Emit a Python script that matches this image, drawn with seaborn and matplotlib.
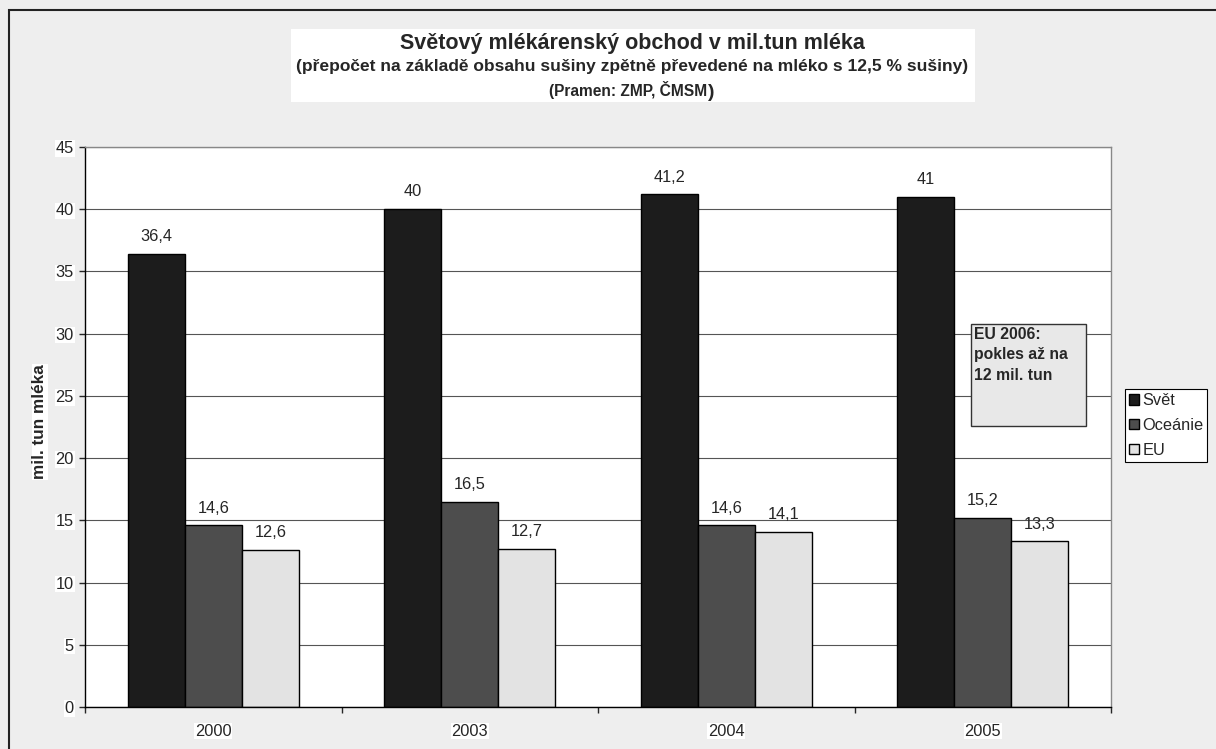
import matplotlib
matplotlib.use("Agg")
import matplotlib.pyplot as plt
from matplotlib.patches import Rectangle
from matplotlib.text import Annotation
import seaborn as sns
import pandas as pd

# values
years = ["2000", "2003", "2004", "2005"]
series = ["Svět", "Oceánie", "EU"]
svet = [36.4, 40.0, 41.2, 41.0]
oceanie = [14.6, 16.5, 14.6, 15.2]
eu = [12.6, 12.7, 14.1, 13.3]
colors = ["#1c1c1c", "#4d4d4d", "#e3e3e3"]

df = pd.DataFrame({
    "rok": years * 3,
    "oblast": [s for s in series for _ in years],
    "hodnota": svet + oceanie + eu,
})

sns.set_style("white")
plt.rcParams["font.family"] = ["Liberation Sans", "DejaVu Sans"]

W, H = 1216, 749
FS = 11.8
fig = plt.figure(figsize=(W / 100, H / 100), dpi=100, facecolor="#eeeeee")
ax = fig.add_axes([85 / W, 1 - 707 / H, (1111 - 85) / W, (707 - 147) / H])
ax.set_facecolor("white")

sns.barplot(data=df, x="rok", y="hodnota", hue="oblast", hue_order=series,
            palette=colors, width=0.667, gap=0, edgecolor="black", linewidth=1,
            saturation=1, ax=ax, legend=True)

for cont in ax.containers:
    labels = [f"{b.get_height():g}".replace(".", ",") for b in cont]
    ax.bar_label(cont, labels=labels, padding=7, fontsize=FS)

ax.set_ylim(0, 45)
ax.set_xlim(-0.5, 3.5)
ax.set_yticks(range(0, 46, 5))
ax.yaxis.grid(True, color="#555555", linewidth=0.8)
ax.set_axisbelow(True)
ax.tick_params(axis="y", direction="out", length=4, width=1, labelsize=FS,
               left=True, pad=4)
ax.tick_params(axis="x", which="major", length=0, labelsize=FS, pad=12)
ax.set_xticks([-0.5, 0.5, 1.5, 2.5, 3.5], minor=True)
ax.tick_params(axis="x", which="minor", direction="out", length=4, width=1, bottom=True)
for lbl in ax.get_yticklabels() + ax.get_xticklabels():
    lbl.set_bbox(dict(facecolor="white", edgecolor="none", pad=0.5))
ax.set_xlabel("")
ax.set_ylabel("")
for side in ["left", "bottom"]:
    ax.spines[side].set_color("black")
    ax.spines[side].set_linewidth(1)
for side in ["top", "right"]:
    ax.spines[side].set_color("#888888")
    ax.spines[side].set_linewidth(1)

handles, lbls = ax.get_legend_handles_labels()
ax.get_legend().remove()
leg = fig.legend(handles, lbls, loc="upper left",
                 bbox_to_anchor=(1125 / W, 1 - 389 / H), fontsize=FS,
                 handlelength=0.6, handleheight=0.6, handletextpad=0.2,
                 labelspacing=0.6, borderpad=0.25, borderaxespad=0,
                 fancybox=False, framealpha=1, edgecolor="black",
                 facecolor="white")
leg.get_frame().set_linewidth(0.8)

fig.text(40 / W, 1 - 422 / H, "mil. tun mléka", rotation=90, ha="center",
         va="center", fontsize=12.3, fontweight="bold",
         bbox=dict(facecolor="white", edgecolor="none", pad=0.5))

# title block on a white panel
fig.patches.append(Rectangle((291 / W, 1 - 102 / H), (975 - 291) / W, 73 / H,
                             transform=fig.transFigure, facecolor="white",
                             edgecolor="none"))
fig.text(632 / W, 1 - 43 / H, "Světový mlékárenský obchod v mil.tun mléka",
         ha="center", va="center", fontsize=15.5, fontweight="bold")
fig.text(632 / W, 1 - 67 / H,
         "(přepočet na základě obsahu sušiny zpětně převedené na mléko s 12,5 % sušiny)",
         ha="center", va="center", fontsize=12.5, fontweight="bold")
src = fig.text(628 / W, 1 - 90 / H, "(Pramen: ZMP, ČMSM", ha="center",
               va="center", fontsize=11.2, fontweight="bold")
# the closing bracket is set larger in the original
fig.add_artist(Annotation(")", xy=(1, 0), xycoords=src, xytext=(0.5, -1.5),
                          textcoords="offset points", ha="left", va="bottom",
                          fontsize=14, fontweight="bold", zorder=3))

# annotation box
fig.patches.append(Rectangle((971 / W, 1 - 426 / H), 115 / W, 102 / H,
                             transform=fig.transFigure, facecolor="#e8e8e8",
                             edgecolor="#333333", linewidth=1, zorder=5))
fig.text(974 / W, 1 - 327 / H, "EU 2006:\npokles až na\n12 mil. tun",
         ha="left", va="top", fontsize=11.3, fontweight="bold", linespacing=1.45,
         zorder=6)

# outer chart frame
fig.patches.append(Rectangle((9 / W, -0.05), 1.1, 1 - 9.5 / H + 0.05,
                             transform=fig.transFigure, facecolor="none",
                             edgecolor="#222222", linewidth=1.5))

fig.savefig("out.png", dpi=100, facecolor=fig.get_facecolor())
